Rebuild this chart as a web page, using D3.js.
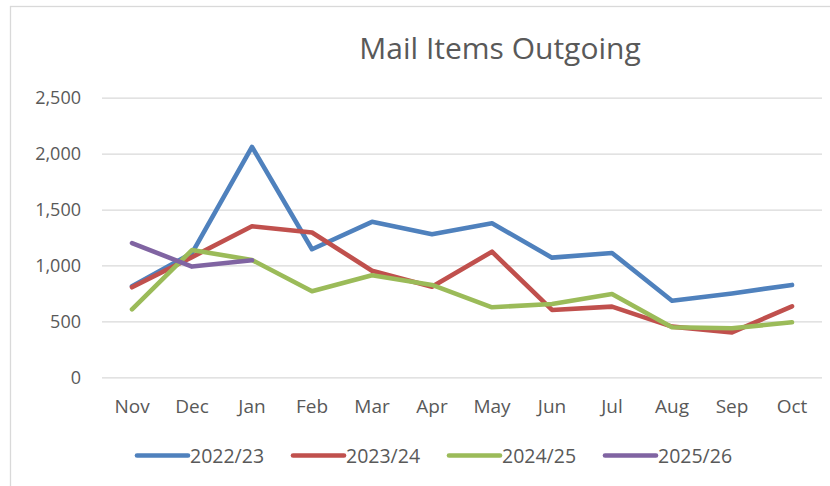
<!DOCTYPE html>
<html><head><meta charset="utf-8">
<script src="https://cdn.jsdelivr.net/npm/d3@7"></script>
<style>body{margin:0;background:#fff}svg{display:block}text{font-family:"Open Sans",sans-serif;fill:#595959}</style>
</head><body>
<svg id="c" width="830" height="486"></svg>
<script>
const title = "Mail Items Outgoing";
const months = ["Nov","Dec","Jan","Feb","Mar","Apr","May","Jun","Jul","Aug","Sep","Oct"];
const seriesNames = ["2022/23","2023/24","2024/25","2025/26"];
const s2022 = [815,1110,2060,1145,1390,1280,1377,1070,1112,685,750,826];
const s2023 = [805,1075,1350,1295,953,810,1123,602,632,453,402,635];
const s2024 = [608,1138,1049,769,912,826,626,656,745,447,438,492];
const s2025 = [1200,990,1047];
const colors = ["#4F81BD","#C0504D","#9BBB59","#8064A2"];
const yTicks = [0,500,1000,1500,2000,2500];

const svg = d3.select("#c");
svg.append("rect").attr("x",10.5).attr("y",6.5).attr("width",840).attr("height",500)
  .attr("fill","#fff").attr("stroke","#D9D9D9").attr("stroke-width",1.3);

const x = d3.scaleBand().domain(months).range([102,822]);
const y = d3.scaleLinear().domain([0,2500]).range([377.3,97.7]);
const cx = m => x(m) + x.bandwidth()/2;

// gridlines
const yAxis = d3.axisLeft(y).tickValues(yTicks).tickSize(-(822-102)).tickFormat(d3.format(","));
const ga = svg.append("g").attr("transform","translate(102,0)").call(yAxis);
ga.select(".domain").remove();
ga.selectAll(".tick line").attr("stroke","#D9D9D9").attr("stroke-width",1.3);
ga.selectAll(".tick text").attr("x",-21).attr("dy","0.34em").style("font-size","18px").attr("fill","#595959");

const xAxis = d3.axisBottom(x).tickSize(0);
const gx = svg.append("g").attr("transform","translate(0,377)").call(xAxis);
gx.select(".domain").remove();
gx.selectAll(".tick text").attr("y",30).attr("dy","0.34em").style("font-size","19px").attr("fill","#595959");

svg.append("text").attr("x",500).attr("y",59).attr("text-anchor","middle")
  .style("font-size","30px").text(title);

const data = [s2022,s2023,s2024,s2025];
const line = d3.line().x((d,i)=>cx(months[i])).y(d=>y(d));
data.forEach((s,k)=>{
  svg.append("path").datum(s).attr("d",line).attr("fill","none")
    .attr("stroke",colors[k]).attr("stroke-width",4.6)
    .attr("stroke-linejoin","round").attr("stroke-linecap","round");
});

// legend
const legX = [137,293,449,605];
seriesNames.forEach((n,k)=>{
  const g = svg.append("g").attr("transform",`translate(${legX[k]},455.5)`);
  g.append("line").attr("x1",0).attr("x2",51).attr("y1",0).attr("y2",0)
    .attr("stroke",colors[k]).attr("stroke-width",4.6).attr("stroke-linecap","round");
  g.append("text").attr("x",53).attr("dy","0.36em").style("font-size","19.5px").text(n);
});
</script>
</body></html>
